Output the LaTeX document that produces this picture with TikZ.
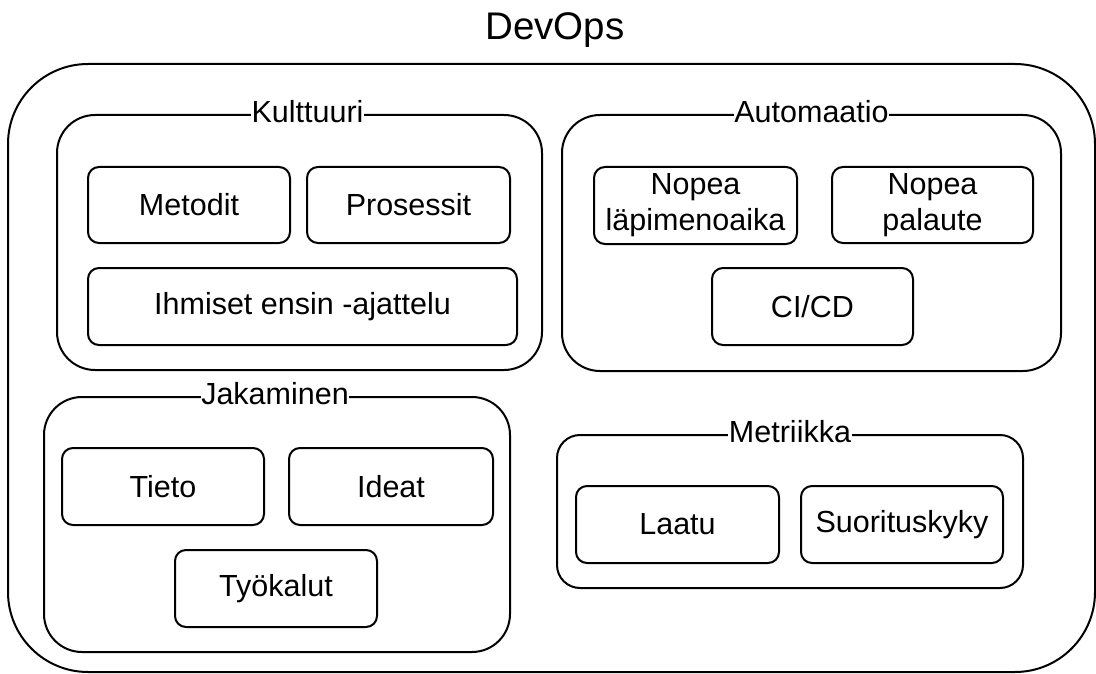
\documentclass[tikz,border=0pt]{standalone}
\usepackage{fontspec}
\setmainfont{Liberation Sans}
\begin{document}
\begin{tikzpicture}[x=1pt,y=-1pt,
  every node/.style={font=\fontsize{30.5pt}{36pt}\selectfont, inner sep=0pt, align=center},
  outerbox/.style={draw, line width=2pt, rounded corners=80pt},
  groupbox/.style={draw, line width=2pt, rounded corners=38pt},
  smallgroup/.style={draw, line width=2pt, rounded corners=23pt},
  itembox/.style={draw, line width=2pt, rounded corners=11pt, minimum height=76pt},
  grouplabel/.style={fill=white, inner xsep=0.5pt, inner ysep=1pt, anchor=base}
]
\useasboundingbox (0,0) rectangle (1096,674);

% title
\node[anchor=base, font=\fontsize{38.5pt}{44pt}\selectfont] (title) at (555,40) {DevOps};

% outer
\node[outerbox, minimum width=1087pt, minimum height=608pt] (devops) at (551.5,368) {};

% groups
\node[groupbox, minimum width=485pt, minimum height=255pt] (kult) at (299.5,242.5) {};
\node[groupbox, minimum width=499pt, minimum height=256pt] (auto) at (811.5,243) {};
\node[groupbox, minimum width=466pt, minimum height=255pt] (jak) at (277,524.5) {};
\node[smallgroup, minimum width=466pt, minimum height=153pt] (metr) at (790,511.5) {};

\node[grouplabel] (kultl) at ([xshift=8pt,yshift=-9pt]kult.north) {Kulttuuri};
\node[grouplabel] (autol) at ([yshift=-9pt]auto.north) {Automaatio};
\node[grouplabel] (jakl) at ([xshift=-2pt,yshift=-8pt]jak.north) {Jakaminen};
\node[grouplabel] (metrl) at ([yshift=-8pt]metr.north) {Metriikka};

% Kulttuuri items
\node[itembox, minimum width=202pt] (metodit) at (189,205) {Metodit};
\node[itembox, minimum width=203pt] (prosessit) at (408.5,205) {Prosessit};
\node[itembox, minimum width=429pt, minimum height=77pt] (ihmiset) at (302.5,306.5) {Ihmiset ensin -ajattelu};

% Automaatio items
\node[itembox, minimum width=203pt, minimum height=77pt] (lapi) at (695.5,205.5) {Nopea\\läpimenoaika};
\node[itembox, minimum width=201pt] (palaute) at (932.5,205) {Nopea\\palaute};
\node[itembox, minimum width=201pt, minimum height=77pt] (cicd) at (812.5,306.5) {CI/CD};

% Jakaminen items
\node[itembox, minimum width=202pt, minimum height=77pt] (tieto) at (163,486.5) {Tieto};
\node[itembox, minimum width=204pt, minimum height=77pt] (ideat) at (391,486.5) {Ideat};
\node[itembox, minimum width=202pt, minimum height=77pt] (tyokalut) at (276,588.5) {Työkalut};

% Metriikka items
\node[itembox, minimum width=203pt, minimum height=77pt] (laatu) at (677.5,524.5) {Laatu};
\node[itembox, minimum width=202pt, minimum height=77pt] (suor) at (902,524.5) {Suorituskyky};
\end{tikzpicture}
\end{document}
